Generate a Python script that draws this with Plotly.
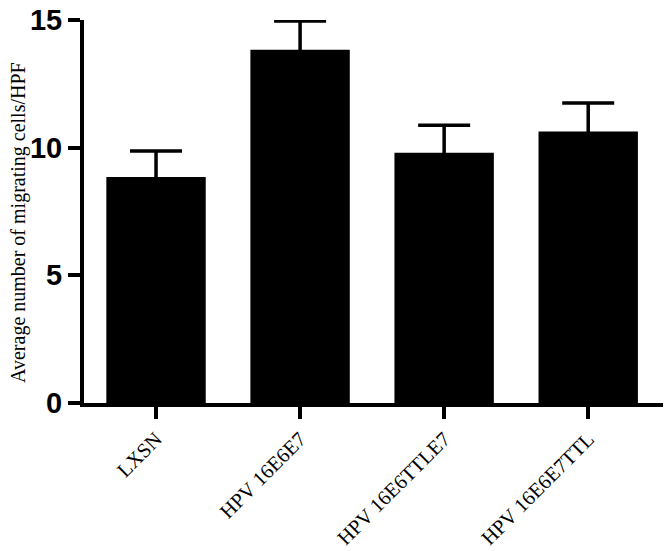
import plotly.graph_objects as go

categories = ["LXSN", "HPV 16E6E7", "HPV 16E6TTLE7", "HPV 16E6E7TTL"]
means = [8.85, 13.83, 9.80, 10.63]
errors = [1.02, 1.13, 1.08, 1.12]
y_ticks = [0, 5, 10, 15]
y_title = "Average number of migrating cells/HPF"

# page body has an 8px margin; size the figure so the plot area lands where the reference has it
W, H = 663, 543
L, R, T, B = 76, 5, 12, 148
plot_w = W - L - R

fig = go.Figure()
fig.add_trace(go.Bar(
    x=list(range(len(categories))),
    y=means,
    width=0.69,
    marker=dict(color="black", line=dict(width=0)),
    error_y=dict(type="data", array=errors, visible=True, color="black",
                 thickness=3.5, width=26),
))

fig.update_layout(
    width=W, height=H,
    margin=dict(l=L, r=R, t=T, b=B),
    plot_bgcolor="white", paper_bgcolor="white",
    showlegend=False,
    xaxis=dict(
        range=[-0.5, 3.54], automargin=False,
        tickmode="array", tickvals=list(range(len(categories))), ticktext=categories,
        tickangle=-45,
        ticks="outside", ticklen=12, tickwidth=4, tickcolor="black",
        showline=True, linewidth=4, linecolor="black",
        showgrid=False, zeroline=False,
        tickfont=dict(family="Liberation Serif", size=20.5, color="black"),
    ),
    yaxis=dict(
        range=[0, 15], automargin=False, ticklabeloverflow="allow",
        tickmode="array", tickvals=y_ticks, ticktext=[str(v) for v in y_ticks],
        ticks="outside", ticklen=12, tickwidth=4, tickcolor="black",
        showline=True, linewidth=4, linecolor="black",
        showgrid=False, zeroline=False,
        tickfont=dict(family="Liberation Sans", size=29, color="black", weight="bold"),
    ),
    annotations=[dict(
        text=y_title, textangle=-90,
        xref="paper", yref="paper",
        x=(11 - L) / plot_w, y=0.47, xanchor="center", yanchor="middle",
        showarrow=False,
        font=dict(family="Liberation Serif", size=20, color="black"),
    )],
)

fig.write_html("out.html")
